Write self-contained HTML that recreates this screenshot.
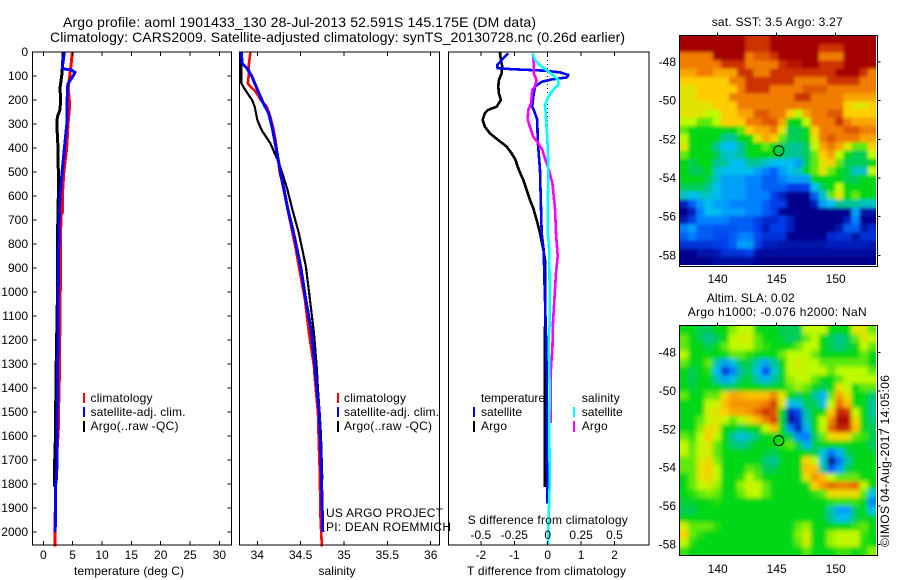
<!DOCTYPE html>
<html lang="en">
<head>
<meta charset="utf-8">
<title>Argo profile 1901433_130</title>
<style>
html,body{margin:0;padding:0;background:#fff;width:900px;height:580px;overflow:hidden}
svg{display:block}
text{font-family:"Liberation Sans",sans-serif;font-size:12px;fill:#000}
.title{font-size:14px}
</style>
</head>
<body>
<svg id="figure" xmlns="http://www.w3.org/2000/svg" width="900" height="580" viewBox="0 0 900 580">
  <defs>
    <clipPath id="clip-sst"><rect x="680" y="36" width="196" height="229"/></clipPath>
    <clipPath id="clip-sla"><rect x="680" y="326" width="196" height="229"/></clipPath>
    <filter id="blur-sst" x="-5%" y="-5%" width="110%" height="110%"><feGaussianBlur stdDeviation="1.6"/></filter>
    <filter id="blur-sla" x="-5%" y="-5%" width="110%" height="110%"><feGaussianBlur stdDeviation="2.2"/></filter>
  </defs>

  <text class="title" x="63" y="27" textLength="473">Argo profile: aoml 1901433_130 28-Jul-2013 52.591S 145.175E (DM data)</text>
  <text class="title" x="50" y="42" textLength="575">Climatology: CARS2009. Satellite-adjusted climatology: synTS_20130728.nc (0.26d earlier)</text>

  <g id="panels"></g>
  <g id="maps"></g>

  <g>
    <rect x="83" y="393" width="2" height="10" fill="#f00"/>
    <rect x="83" y="407" width="2" height="10" fill="#00f"/>
    <rect x="83" y="421" width="2" height="11" fill="#000"/>
    <text x="90.5" y="402" textLength="62">climatology</text>
    <text x="90.5" y="416" textLength="95">satellite-adj. clim.</text>
    <text x="90.5" y="430" textLength="88">Argo(..raw -QC)</text>
  </g>
  <g>
    <rect x="337" y="393" width="2" height="10" fill="#f00"/>
    <rect x="337" y="407" width="2" height="10" fill="#00f"/>
    <rect x="337" y="421" width="2" height="11" fill="#000"/>
    <text x="344" y="402" textLength="62">climatology</text>
    <text x="344" y="416" textLength="95">satellite-adj. clim.</text>
    <text x="344" y="430" textLength="88">Argo(..raw -QC)</text>
    <text x="326" y="517" textLength="117">US ARGO PROJECT</text>
    <text x="326" y="531" textLength="125">PI: DEAN ROEMMICH</text>
  </g>
  <g>
    <text x="481" y="402" textLength="64">temperature</text>
    <rect x="473" y="407" width="2" height="10" fill="#00f"/>
    <rect x="473" y="421" width="2" height="11" fill="#000"/>
    <text x="481" y="416" textLength="41">satellite</text>
    <text x="481" y="430" textLength="26">Argo</text>
    <text x="581.7" y="402" textLength="38">salinity</text>
    <rect x="573" y="407" width="2" height="10" fill="#0ff"/>
    <rect x="573" y="421" width="2" height="11" fill="#f0f"/>
    <text x="581.7" y="416" textLength="41">satellite</text>
    <text x="581.7" y="430" textLength="26">Argo</text>
  </g>

  <text x="74" y="575" textLength="110">temperature (deg C)</text>
  <text x="318.5" y="575" textLength="37">salinity</text>
  <text x="467.7" y="524" textLength="160">S difference from climatology</text>
  <text x="467" y="575" textLength="159">T difference from climatology</text>

  <text x="711.7" y="26" textLength="131">sat. SST: 3.5 Argo: 3.27</text>
  <text x="706.7" y="302" textLength="88">Altim. SLA: 0.02</text>
  <text x="687.7" y="316" textLength="179">Argo h1000: -0.076 h2000: NaN</text>
  <text transform="translate(889 547) rotate(-90)" x="0" y="0" textLength="172">©IMOS 04-Aug-2017 14:05:06</text>

<script>
// ---------- tick data ----------
const depthTicks = [0,100,200,300,400,500,600,700,800,900,1000,1100,1200,1300,1400,1500,1600,1700,1800,1900,2000];
const tempTicks = [0,5,10,15,20,25,30];
const salinityTicks = [34,34.5,35,35.5,36];
const salinityTickLabels = ['34','34.5','35','35.5','36'];
const tDiffTicks = [-2,-1,0,1,2];
const tDiffTickLabels = ['-2','-1','0','1','2'];
const sDiffTicks = [-0.5,-0.25,0,0.25,0.5];
const sDiffTickLabels = ['-0.5','-0.25','0','0.25','0.5'];
const lonTicks = [140,145,150];
const latTicks = [-48,-50,-52,-54,-56,-58];

// ---------- temperature panel ----------
const tempClimDepth = [0,60,100,150,220,300,400,500,600,670,680,780,980,1350,1450,1470,1570,1700,1800,1900,2000,2060];
const tempClimValue = [4.95,4.7,4.5,4.25,4.5,4.2,3.98,3.5,3.24,3.24,3.0,2.95,2.9,2.73,2.7,2.56,2.56,2.25,2.1,2.05,2.0,2.0];
const tempArgoDepth = [0,60,100,150,200,240,270,300,350,400,500,600,730,950,1300,1390,1520,1620,1760,1810];
const tempArgoValue = [3.4,3.25,3.13,2.85,2.95,2.85,2.4,2.3,2.4,2.5,2.55,2.56,2.45,2.45,2.2,2.2,2.05,2.05,1.88,1.88];
const tempSatDepth = [0,60,70,75,85,95,130,150,300,400,500,600,730,950,1300,1420,1770,1800,1950,2000];
const tempSatValue = [3.6,3.25,3.3,4.8,5.4,5.2,4.25,4.1,4.0,3.6,3.2,2.85,2.67,2.55,2.45,2.4,2.28,2.1,2.1,2.0];

// ---------- salinity panel ----------
const salClimDepth = [0,61,103,130,144,165,200,228,269,311,367,436,505,533,825,894,1033,1172,1311,1367,1505,1644,1740,1950,2060];
const salClimValue = [33.92,33.9,33.9,33.89,33.92,33.98,34.04,34.11,34.15,34.18,34.21,34.235,34.26,34.28,34.446,34.48,34.55,34.596,34.654,34.665,34.70,34.71,34.72,34.73,34.745];
const salArgoDepth = [0,130,158,200,228,283,325,353,380,421,463,505,575,650,755,894,1033,1172,1311,1408,1505,1600,1780];
const salArgoValue = [33.815,33.815,33.86,33.94,33.97,34.0,34.05,34.1,34.15,34.2,34.25,34.29,34.35,34.4,34.48,34.56,34.608,34.654,34.685,34.70,34.72,34.735,34.75];
const salSatDepth = [0,47,67,103,130,172,214,255,311,367,436,505,575,650,755,894,1033,1172,1311,1408,1505,1644,1783,2000];
const salSatValue = [33.815,33.825,33.88,33.94,33.97,34.02,34.07,34.13,34.17,34.2,34.235,34.27,34.31,34.35,34.42,34.50,34.56,34.627,34.665,34.69,34.715,34.73,34.74,34.755];

// ---------- difference panel ----------
const tDiffArgoDepth = [0,33,61,89,117,144,172,200,228,241,255,283,311,339,367,394,422,450,477,505,533,575,616,651,700,755,825,866,991,1170,1408,1600,1811];
const tDiffArgoValue = [-1.43,-1.4,-1.36,-1.38,-1.46,-1.48,-1.46,-1.4,-1.53,-1.78,-1.88,-1.95,-1.88,-1.73,-1.48,-1.23,-1.08,-0.96,-0.9,-0.82,-0.73,-0.63,-0.53,-0.43,-0.33,-0.23,-0.13,-0.08,-0.07,-0.08,-0.08,-0.08,-0.08];
const tDiffSatDepth = [6,26,54,68,72,78,85,96,106,114,124,144,186,228,255,283,367,492,651,755,825,950,1030,1250,1408,1600,1880];
const tDiffSatValue = [-1.18,-1.33,-1.51,-1.5,-1.0,-0.08,0.37,0.62,0.57,0.12,-0.18,-0.38,-0.43,-0.46,-0.38,-0.31,-0.3,-0.23,-0.2,-0.18,-0.12,-0.1,-0.08,-0.04,-0.03,-0.03,-0.01];
const sDiffArgoDepth = [6,61,89,117,144,158,214,241,283,325,353,380,408,436,492,547,651,755,850,920,1030,1125,1240,1310,1408,1545];
const sDiffArgoValue = [-0.108,-0.105,-0.105,-0.083,-0.095,-0.115,-0.125,-0.145,-0.15,-0.125,-0.108,-0.07,-0.04,-0.025,0.01,0.035,0.055,0.062,0.075,0.062,0.05,0.04,0.035,0.025,0.022,0.022];
const sDiffSatDepth = [6,33,54,75,96,117,137,158,186,221,255,311,394,505,651,755,825,1030,1130,1200,1408,1550,1800,1950,2050];
const sDiffSatValue = [-0.115,-0.095,-0.06,-0.01,0.04,0.08,0.08,0.04,0.005,-0.02,-0.015,-0.008,-0.0003,0.005,-0.0003,-0.0003,0.012,0.0146,0.0146,0.007,0.0146,0.012,0.0146,0.007,0.002];

// ---------- maps: 24 columns x 28 rows of colour-scale values (0 = deep blue, 10 = dark red) ----------
const sstGrid = [
[10,10,10,10,10,10,10,10,9,9,9,10,10,10,10,10,10,10,10,10,10,10,10,10],
[10,10,10,10,10,10,10,10,9,9,9,10,10,10,10,10,10,9,9,9,10,10,10,10],
[8,8,8,8,10,10,10,10,8,8.5,8.5,9,10,10,10,10,10,8,8,8,10,10,10,10],
[8,8,8,8,8,9,9,9,8,8,8,8,9,9.5,9.5,10,10,9,9,9,10,10,10,10],
[7.5,7.5,8,8,7.5,7.5,7.5,9,9,8,8,9,9,9,9,9,9,9,9,10,10,10,9,8],
[7,7,7,7,7,7,8,8,9,9,9,9,9,9,8,8,8,8,9,9,9,9,8,8],
[6.5,6.5,7,7,7,7,7,8,9,9,9,8,8,8,8,8.5,8.5,8.5,8,8,8,8,8,8],
[6.5,6.5,7,7,7,7,8,8,8,8,8,8,8,8,9,9,8,8,8,8,7.5,7.5,7.5,7.5],
[6.5,6.5,6.5,6.5,7,7,7,8,8,8,8,8,8,8,8,8,8,8,8,8,7,6.5,6.5,7],
[6.5,6.5,6.5,6,6,7,7,7.5,7.5,8.5,8.5,8,8,7,6,7.5,8,8,8.5,8.5,7,7,7,7],
[6,6,5.5,5.5,6,7,7,7,8,8,8.5,8.5,7.5,5,5,6,8,8,8,9,8,7.5,7.5,7.5],
[5.5,5,5,5,5,5,5,5.5,7,7.5,7.5,8,6.5,4.5,4.5,5,7,8,8,8,8.5,8.5,8,8],
[6,5,5,5,5,4,4,5,5,6.5,7.5,7,5.5,4.5,4.5,5,6.5,8,8.5,8,8,8,7.5,7.5],
[6.5,5,5,5,4,3,3,4,5,5,5.5,5,4.5,4,4,4.5,6,7.5,8,7.5,6.5,5.5,5.5,7],
[5.5,5,5,5,4.5,3.5,3.5,4,5,5,5,5,4.5,4,4,4.5,5.5,7,7.5,6,5,4.5,4.5,6],
[5,4.5,5,5,4,4,3,3,4,4,3.5,3,3,3,2.5,4.5,5.5,6.5,7,5.5,4.5,4.5,4.5,5],
[5,4.5,4.5,5,3.5,3,3,3,3,2.5,2,1.5,2.5,3,3.5,5,5.5,6.5,5.5,5,4.5,3.5,3.5,6],
[5,5,5,4.5,3.5,2.5,2.5,2.5,2,2,1.5,1.5,2,2.5,2.5,2.5,5,5,5,5,4.5,4.5,5,5],
[4.5,4.5,4.5,4,3,2.5,2.5,2.5,2,2,1.5,1.5,1.5,1,1,1,3,4.5,5,6,5,5,5,5],
[3.5,3,3.5,3.5,3,2.5,2.5,2.5,2,2,2,1,0.5,0,0,0,1.5,3.5,5.5,6.5,5,5.5,5,5],
[0.5,1.5,2.5,3,2.5,2.5,2,2,2,2,1.5,1,1,0,0,0,0.5,2.5,3,4,4,4,3.5,3.5],
[0,0.5,2,3,3,2.5,2.5,2.5,2,2,1.5,1,0,0,0,0,0,0,0,0,0,2.5,0.3,0.3],
[0.3,1,2,2,2,2,1.5,1.5,1.5,1,0.7,0.7,1,0.5,0,0,0,0,0,0,0.5,2,0,0],
[2,2.5,1.5,1.5,1.3,1.3,1.3,1.5,1.5,1,0.5,1,1,0.5,0,0,0,0,0,0.3,1.5,1.5,0.3,0.7],
[1.5,2,1.5,1.5,1.2,1.2,1.5,2,2,1.2,0.8,0.8,0.8,0,0,0,0,0,0.7,0.8,0.8,0.3,0.8,0.8],
[0.8,0.8,0.8,0.8,1,1,1.5,2.5,2.5,1,0.5,0.5,0.3,0.3,0.3,0.3,0.3,0.3,0.5,0.5,0.5,0.5,0.5,0.3],
[0,0,0.3,0.3,0.4,0.8,0.8,0.8,1,0.2,0.2,0.2,0.2,0.2,0.2,0.2,0.2,0.2,0.2,0.2,0.2,0.2,0.2,0.2],
[0,0,0,0,0.2,0.2,0.2,0.2,0.2,0,0,0,0,0,0,0,0,0,0,0,0,0,0,0]
];
const slaGrid = [
[5,5,4.5,4.5,5,5,5.7,6,6,5,5,5,4.5,4.5,4.5,6,6,6,5,5,5,6.5,6.5,5.5],
[5.5,5,4.5,4,4.5,5,6,6.3,6.3,5.5,5,5,4.7,4.3,4.7,5.5,6,5,4.5,4,4.5,5.5,6.5,6],
[5.5,5,5,4.5,5,5.5,6,6,6,5.5,5.2,5,5,5,5.5,6,6,5,4.5,4.2,4.5,5,6,5.5],
[6,5,5,5,5,5,5.5,5.5,5.2,5,5,5,5.5,6,6,6,5.5,5,5,5,5,5,5.5,5],
[5.5,5,5,5.5,3.8,2.5,3.2,4.5,4.6,3.6,2.6,4,5,6,6.3,6,6,5.5,5.5,5.5,5.5,5.5,5.5,5],
[5,4.5,5,5.2,3,0.8,2,4,4.5,3,1.2,3.3,4.8,6,6.2,6,6,6,5.5,6,6,6,6,5.5],
[5,4.5,5,5,3.8,2.5,3.2,4.5,4.7,3.8,2.8,4,4.8,5.8,6,6,5.5,5,5,5.5,6,6,6,6],
[5,4.7,5,5,5,4.5,4.5,5,5,5,4.8,5,5,5.5,5.8,5.5,5,4.5,5,6.5,6,5,5.5,5.5],
[5.5,5,5,5.5,5.5,6.8,7.5,7.4,7.2,7.2,7.2,7.8,6.5,5,4.5,5,4,2.8,5.5,7.5,6.5,5,5,4.3],
[5,5,5,6,6.2,7.2,7.7,7.7,7.7,7.7,8,8.8,6.5,3,3.2,4.5,4.5,3.2,6,8.2,7.2,5,5,4],
[5,5,5,6.3,6.5,7,7.4,7.5,7.7,8.3,9,8.5,5,0.5,1.2,4,5,5,7,9.2,9,6,5,4],
[5,5,5.5,6,6.5,6,5.5,6,6.5,7.2,8,8.8,4.8,0.2,0.8,3.6,5,6,7.8,9.8,9.8,6.8,5,4.2],
[5,5,5.7,6.7,6.5,5,5,4.5,5,5,6,7.2,5,2,0.5,2.8,5,6,8.3,9.3,9.2,7.2,5,4.5],
[5.5,5.2,6,7,6,5,4,3.2,3.7,4.5,5,5,5,4.5,2.2,1.8,4.5,5.5,6.7,7,6.7,5.5,5.3,4.6],
[6,5.5,6,6.5,5.5,5,4.3,4,4.5,5,5,5,5.2,5.5,4.5,2.6,4.5,5,5,5,5,5,5,4.4],
[6,5.5,6.2,6.3,5.5,5,5,5,5,5,4.7,4.5,5,5,5,5,4.5,3.3,1.8,2.8,4.5,4.8,5,4.8],
[5.5,5.5,6.3,6.7,5.7,5,5,5,5,5,4.3,4,5,5,5,7,6,3.2,0,1.8,3.8,5,5,5],
[5.5,5.5,6.5,7,6,5,5,5,5.5,5.3,4.5,4.5,5,5,5,7.2,7.2,4,1.5,2.6,4.5,5,5,5],
[5,5.5,6.5,6.8,6,5,5,5.2,6,5.5,5,5,5,5,5,6.5,7.7,7.2,6,5.5,5.5,5.5,5,5],
[5,5.5,6,6.2,5.8,5,5,5.8,6.2,6,5.5,5,5,5,5,5,7,7.7,8.3,8,8,8.3,6,5],
[5,5.2,5.5,5.7,5.5,5,5,5.5,6,6,5.5,5,5,5,5,5,5.2,5.5,6.7,6.7,6.7,6.7,5.5,3.2],
[4.8,4.8,5,5,5.2,5,5,5,5,5,5,5,5,5,5,5,5,5,5.2,5.3,5.3,5.3,5,2],
[4.5,4.5,5,5,5,5,5,5,5,5,5,5,5,5,5,5,5,5,3.8,2.5,2.5,4.5,5,3],
[5,5,5,5,5,5,5,5,5,5,5,5,5,5,5,5,5,4.8,4,3,3.2,4.5,5,4.8],
[6.3,5.5,5.5,5.5,5.2,5,5,5,5,5,5,5,5,5,5.5,5.8,5,5,5,5,5,5.3,5.5,5],
[7,5.5,5.2,5,5,5,5,5,5,5,5,5,5,5,5.7,6.2,5,5,5.8,6,6,6,5.3,5],
[6,5.2,5,5,5,5,5,5,5,5,5,5,5,5,5.5,6.2,5,5,5.8,6,6.2,6,5.2,5],
[5.3,5,5,5,5,5,5,5,5,5,5,5,5,5,5,5.5,5,5,5,5.3,5.3,5,5.2,5.7]
];
const floatLon = 145.175;
const floatLat = -52.591;

// ---------- axis functions ----------
const NS = 'http://www.w3.org/2000/svg';
const depthY = d => 52 + d * 0.2401;
const tempX = v => 43.3 + v * 5.87;
const salX = v => 257.3 + (v - 34) * 86.7;
const tDiffX = v => 547.7 + v * 33.4;
const sDiffX = v => 547.7 + v * 133.6;
const lonX = v => 776.7 + (v - 145) * 11.8;
const sstLatY = v => 139.3 + (-52 - v) * 19.34;
const slaLatY = v => 429.3 + (-52 - v) * 19.2;

function make(parent, tag, attrs, text) {
  const el = document.createElementNS(NS, tag);
  for (const k in attrs) el.setAttribute(k, attrs[k]);
  if (text !== undefined) el.textContent = text;
  parent.appendChild(el);
  return el;
}

function jet(v) {
  const stops = [[0,0,0,140],[1,0,60,235],[2,0,130,255],[3,0,190,240],[4,0,195,150],[5,0,215,20],[6,190,250,0],[7,255,205,0],[8,240,125,0],[9,205,50,0],[10,165,0,0]];
  const c = Math.max(0, Math.min(10, v));
  const i = Math.min(9, Math.floor(c));
  const t = c - i;
  const a = stops[i], b = stops[i + 1];
  return 'rgb(' + [1,2,3].map(k => Math.round(a[k] + (b[k] - a[k]) * t)).join(',') + ')';
}

function drawFrame(parent, x0, y0, x1, y1) {
  const f = make(parent, 'rect', {x:x0, y:y0, width:x1-x0, height:y1-y0, fill:'none', stroke:'#000', 'stroke-width':1, 'shape-rendering':'crispEdges'});
  
  
}

function drawVTick(parent, x, y, len) {
  const t = make(parent, 'line', {x1:x, x2:x, y1:y, y2:y+len, stroke:'#000', 'stroke-width':1, 'shape-rendering':'crispEdges'});
  
  
}

function drawHTick(parent, x, y, len) {
  const t = make(parent, 'line', {x1:x, x2:x+len, y1:y, y2:y, stroke:'#000', 'stroke-width':1, 'shape-rendering':'crispEdges'});
  
  
}

function drawLabel(parent, x, y, anchor, str) {
  const t = make(parent, 'text', {x:x, y:y, 'text-anchor':anchor}, str);
  
  
}

function drawProfile(parent, depths, values, xFn, color, width, name) {
  const pts = depths.map((d, i) => xFn(values[i]).toFixed(1) + ',' + depthY(d).toFixed(1)).join(' ');
  const l = make(parent, 'polyline', {points:pts, fill:'none', stroke:color, 'stroke-width':width, 'stroke-linejoin':'round', 'shape-rendering':'crispEdges'});
  
  
}

function drawHeatmap(parent, grid, clipId, filterId, x0, y0, x1, y1, name) {
  const clip = make(parent, 'g', {'clip-path':'url(#' + clipId + ')'});
  
  
  const g = make(clip, 'g', {filter:'url(#' + filterId + ')'});
  
  
  const rows = grid.length;
  const cols = grid[0].length;
  const cw = (x1 - x0) / cols;
  const ch = (y1 - y0) / rows;
  const bleed = 12;
  grid.forEach((row, r) => {
    row.forEach((v, c) => {
      const left = x0 + c * cw - (c === 0 ? bleed : 0);
      const top = y0 + r * ch - (r === 0 ? bleed : 0);
      const right = x0 + (c + 1) * cw + (c === cols - 1 ? bleed : 0);
      const bottom = y0 + (r + 1) * ch + (r === rows - 1 ? bleed : 0);
      const cell = make(g, 'rect', {x:left.toFixed(2), y:top.toFixed(2), width:(right-left+0.4).toFixed(2), height:(bottom-top+0.4).toFixed(2), fill:jet(v)});
      
      
    });
  });
}

function drawMapAxes(parent, latFn, top, bottom, labelY) {
  drawFrame(parent, 679.5, top, 877.5, bottom);
  lonTicks.forEach(v => {
    drawVTick(parent, lonX(v), top - 3, 3);
    drawLabel(parent, lonX(v), labelY, 'middle', String(v));
  });
  latTicks.forEach(v => {
    drawHTick(parent, 877.5, latFn(v), 3);
    drawLabel(parent, 676, latFn(v) + 4, 'end', String(v));
  });
  const m = make(parent, 'circle', {cx:lonX(floatLon).toFixed(1), cy:latFn(floatLat).toFixed(1), r:5, fill:'none', stroke:'#000', 'stroke-width':1});
  
  
}

// ---------- build ----------
const panels = document.getElementById('panels');
const maps = document.getElementById('maps');
const TOP = 52, BOT = 545;

// temperature
const p1 = make(panels, 'g', {});


drawProfile(p1, tempClimDepth, tempClimValue, tempX, '#f00', 3, 'temperature-climatology-line');
drawProfile(p1, tempArgoDepth, tempArgoValue, tempX, '#000', 3, 'temperature-argo-line');
drawProfile(p1, tempSatDepth, tempSatValue, tempX, '#00f', 3, 'temperature-satellite-line');
drawFrame(p1, 32.5, TOP, 231.5, BOT);
depthTicks.forEach(d => {
  drawHTick(p1, 32.5, depthY(d), 4);
  drawHTick(p1, 227.5, depthY(d), 4);
  drawLabel(p1, 28, depthY(d) + 4, 'end', String(d));
});
tempTicks.forEach(v => {
  drawVTick(p1, tempX(v), TOP, 4);
  drawVTick(p1, tempX(v), BOT - 4, 4);
  drawLabel(p1, tempX(v), 559, 'middle', String(v));
});

// salinity
const p2 = make(panels, 'g', {});


drawProfile(p2, salClimDepth, salClimValue, salX, '#f00', 2.6, 'salinity-climatology-line');
drawProfile(p2, salArgoDepth, salArgoValue, salX, '#000', 2.2, 'salinity-argo-line');
drawProfile(p2, salSatDepth, salSatValue, salX, '#00f', 3, 'salinity-satellite-line');
drawFrame(p2, 239.5, TOP, 439.5, BOT);
salinityTicks.forEach((v, i) => {
  drawVTick(p2, salX(v), TOP, 4);
  drawVTick(p2, salX(v), BOT - 4, 4);
  drawLabel(p2, salX(v), 559, 'middle', salinityTickLabels[i]);
});

// differences
const p3 = make(panels, 'g', {});


const zero = make(p3, 'line', {x1:tDiffX(0), x2:tDiffX(0), y1:TOP, y2:depthY(800), stroke:'#000', 'stroke-width':1, 'stroke-dasharray':'1 3', 'shape-rendering':'crispEdges'});


drawProfile(p3, tDiffArgoDepth, tDiffArgoValue, tDiffX, '#000', 2.6, 't-difference-argo-line');
drawProfile(p3, tDiffSatDepth, tDiffSatValue, tDiffX, '#00f', 2.6, 't-difference-satellite-line');
drawProfile(p3, sDiffArgoDepth, sDiffArgoValue, sDiffX, '#f0f', 2.6, 's-difference-argo-line');
drawProfile(p3, sDiffSatDepth, sDiffSatValue, sDiffX, '#0ff', 2.6, 's-difference-satellite-line');
drawFrame(p3, 448.5, TOP, 649, BOT);
tDiffTicks.forEach((v, i) => {
  drawVTick(p3, tDiffX(v), TOP, 4);
  drawVTick(p3, tDiffX(v), BOT - 4, 4);
  drawLabel(p3, tDiffX(v), 559, 'middle', tDiffTickLabels[i]);
});
sDiffTicks.forEach((v, i) => {
  drawLabel(p3, sDiffX(v), 539, 'middle', sDiffTickLabels[i]);
});

// maps
const m1 = make(maps, 'g', {});


drawHeatmap(m1, sstGrid, 'clip-sst', 'blur-sst', 680, 36, 876, 265, 'sst-heatmap');
drawMapAxes(m1, sstLatY, 35.5, 266.5, 283);

const m2 = make(maps, 'g', {});


drawHeatmap(m2, slaGrid, 'clip-sla', 'blur-sla', 680, 326, 876, 555, 'sla-heatmap');
drawMapAxes(m2, slaLatY, 325.5, 555.5, 573);
</script>
</svg>
</body>
</html>
